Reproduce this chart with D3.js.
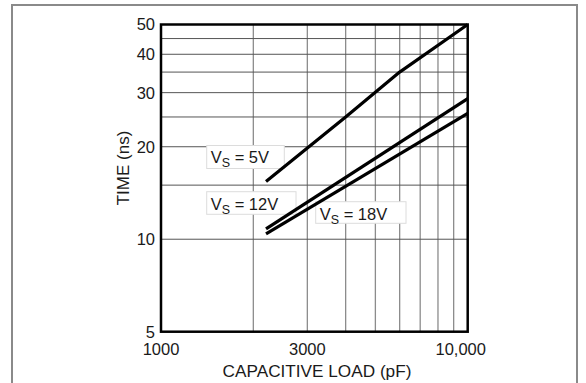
<!DOCTYPE html>
<html>
<head>
<meta charset="utf-8">
<script src="https://cdn.jsdelivr.net/npm/d3@7/dist/d3.min.js"></script>
<style>
  html, body { margin: 0; padding: 0; background: #fff; }
  svg { display: block; }
  text { font-family: "Liberation Sans", Arial, sans-serif; fill: #1a1a1a; }
</style>
</head>
<body>
<svg id="chart" width="586" height="383"></svg>
<script>
// Capacitive load (pF) vs. time (ns) for three supply voltages
const loadGrid = [2000, 3000, 4000, 5000, 6000, 7000, 8000, 9000];
const loadTicks = [1000, 3000, 10000];
const loadTickLabels = ["1000", "3000", "10,000"];
const timeGrid = [10, 15, 20, 25, 30, 35, 40, 45];
const timeTicks = [5, 10, 20, 30, 40, 50];
const timeTickLabels = ["5", "10", "20", "30", "40", "50"];

const seriesNames = ["5V", "12V", "18V"];
const load5V = [2200, 4000, 6000, 10000];
const time5V = [15.4, 25, 35, 50];
const load12V = [2200, 10000];
const time12V = [10.8, 28.7];
const load18V = [2200, 10000];
const time18V = [10.4, 25.7];

const svg = d3.select("#chart");
const plot = { left: 161, top: 24.5, right: 467.7, bottom: 331.7 };

const x = d3.scaleLog().domain([1000, 10000]).range([plot.left, plot.right]);
const y = d3.scaleLog().domain([5, 50]).range([plot.bottom, plot.top]);

// outer frame
svg.append("rect")
  .attr("x", 12).attr("y", 5).attr("width", 565).attr("height", 385)
  .attr("fill", "none").attr("stroke", "#8a8a8a").attr("stroke-width", 2);

// grid
const g = svg.append("g");
g.selectAll("line.vgrid").data(loadGrid).join("line")
  .attr("class", "vgrid")
  .attr("x1", d => x(d)).attr("x2", d => x(d))
  .attr("y1", plot.top).attr("y2", plot.bottom)
  .attr("stroke", "#8c8c8c").attr("stroke-width", 1.3);
g.selectAll("line.hgrid").data(timeGrid).join("line")
  .attr("class", "hgrid")
  .attr("x1", plot.left).attr("x2", plot.right)
  .attr("y1", d => y(d)).attr("y2", d => y(d))
  .attr("stroke", "#555").attr("stroke-width", 1);

// series labels (boxes mask the grid beneath them)
const labelBoxes = [
  { x: 206.7, y: 145.5, w: 77.6, h: 23 },
  { x: 206.7, y: 191.7, w: 89.3, h: 22.6 },
  { x: 315.7, y: 201.7, w: 90.3, h: 21.6 }
];
labelBoxes.forEach((b, i) => {
  const lg = svg.append("g");
  lg.append("rect")
    .attr("x", b.x).attr("y", b.y).attr("width", b.w).attr("height", b.h)
    .attr("fill", "#fff").attr("stroke", "#dcdcdc").attr("stroke-width", 1);
  const t = lg.append("text")
    .attr("x", b.x + 4).attr("y", b.y + 17.8)
    .attr("font-size", 16.5);
  t.append("tspan").text("V");
  t.append("tspan").attr("font-size", 12.5).attr("dy", 4).text("S");
  t.append("tspan").attr("dy", -4).text(" = " + seriesNames[i]);
});

// series curves
const line = d3.line().x(d => x(d[0])).y(d => y(d[1]));
const series = [
  d3.zip(load5V, time5V),
  d3.zip(load12V, time12V),
  d3.zip(load18V, time18V)
];
svg.append("g").selectAll("path").data(series).join("path")
  .attr("d", line)
  .attr("fill", "none").attr("stroke", "#000").attr("stroke-width", 3.2)
  .attr("stroke-linecap", "butt").attr("stroke-linejoin", "round");

// plot border
svg.append("rect")
  .attr("x", plot.left).attr("y", plot.top)
  .attr("width", plot.right - plot.left).attr("height", plot.bottom - plot.top)
  .attr("fill", "none").attr("stroke", "#000").attr("stroke-width", 2.5);

// axis tick labels
svg.append("g").selectAll("text").data(timeTicks).join("text")
  .attr("x", 155).attr("y", d => y(d)).attr("dy", "0.36em")
  .attr("text-anchor", "end").attr("font-size", 16.5)
  .text((d, i) => timeTickLabels[i]);
svg.append("g").selectAll("text").data(loadTicks).join("text")
  .attr("x", (d, i) => x(d) + (i === loadTicks.length - 1 ? -7 : 0))
  .attr("y", 355)
  .attr("text-anchor", "middle").attr("font-size", 16.5)
  .text((d, i) => loadTickLabels[i]);

// axis titles
svg.append("text")
  .attr("x", 317).attr("y", 376.5)
  .attr("text-anchor", "middle").attr("font-size", 17.2)
  .text("CAPACITIVE LOAD (pF)");
svg.append("text")
  .attr("transform", "translate(128.5,168) rotate(-90)")
  .attr("text-anchor", "middle").attr("font-size", 17)
  .text("TIME (ns)");
</script>
</body>
</html>
